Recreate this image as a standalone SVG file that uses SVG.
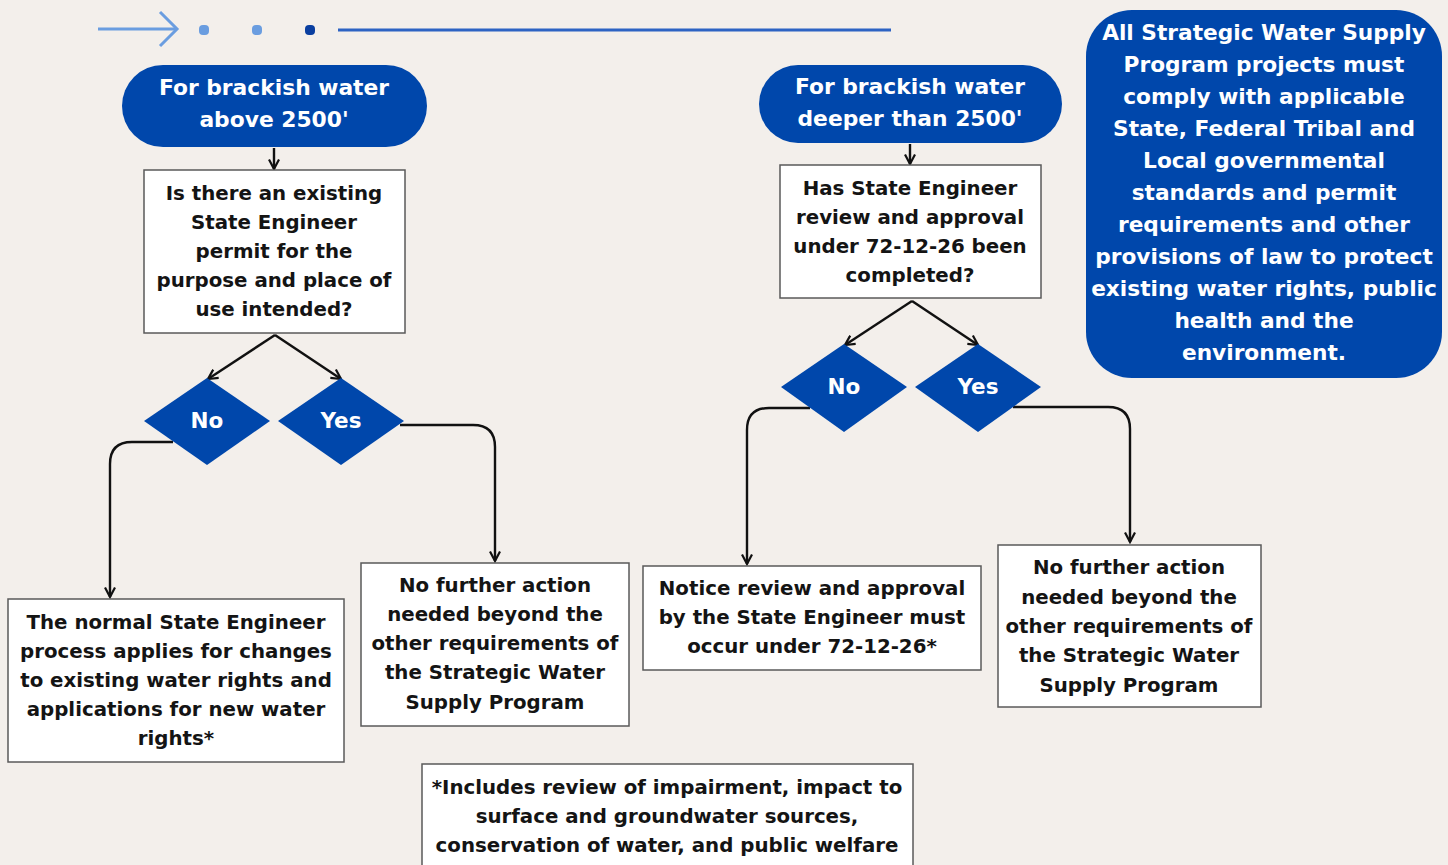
<svg xmlns="http://www.w3.org/2000/svg" width="1448" height="865" viewBox="0 0 1448 865">
<style>
.bg{fill:#f3efeb}
.pill{fill:#0047ab}
.box{fill:#ffffff;stroke:#5a5a5a;stroke-width:1.5}
.dia{fill:#0047ab}
.wt{fill:#ffffff;font-family:"DejaVu Sans",sans-serif;font-weight:bold;text-anchor:middle}
.bt{fill:#141414;font-family:"DejaVu Sans",sans-serif;font-weight:bold;text-anchor:middle;font-size:19.8px}
.con{fill:none;stroke:#111;stroke-width:2.4}
</style>
<defs>
<marker id="ah" viewBox="0 0 12 12" refX="10.5" refY="6" markerWidth="12" markerHeight="12" markerUnits="userSpaceOnUse" orient="auto">
<path d="M1,1 L10.5,6 L1,11" fill="none" stroke="#111" stroke-width="2.2"/>
</marker>
</defs>
<rect class="bg" x="0" y="0" width="1448" height="865"/>
<g id="decoration">
<line x1="98" y1="29" x2="177" y2="29" stroke="#6a9de0" stroke-width="3"/>
<polyline points="160,12 177,29 160,46" fill="none" stroke="#6a9de0" stroke-width="3"/>
<rect x="199" y="25" width="10" height="10" rx="4" fill="#6a9de0"/>
<rect x="252" y="25" width="10" height="10" rx="4" fill="#6a9de0"/>
<rect x="305" y="25" width="10" height="10" rx="4" fill="#0a3fa0"/>
<line x1="338" y1="30" x2="891" y2="30" stroke="#2d63c3" stroke-width="3"/>
</g>
<g id="connectors">
<line class="con" x1="274" y1="148" x2="274" y2="169" marker-end="url(#ah)"/>
<line class="con" x1="275" y1="335" x2="208" y2="379" marker-end="url(#ah)"/>
<line class="con" x1="275" y1="335" x2="341" y2="379" marker-end="url(#ah)"/>
<path class="con" d="M173,442 L132,442 Q110,442 110,464 L110,597" marker-end="url(#ah)"/>
<path class="con" d="M400,425 L473,425 Q495,425 495,447 L495,561" marker-end="url(#ah)"/>
<line class="con" x1="910" y1="144" x2="910" y2="164" marker-end="url(#ah)"/>
<line class="con" x1="912" y1="301" x2="845" y2="345" marker-end="url(#ah)"/>
<line class="con" x1="912" y1="301" x2="978" y2="345" marker-end="url(#ah)"/>
<path class="con" d="M810,408 L769,408 Q747,408 747,430 L747,564" marker-end="url(#ah)"/>
<path class="con" d="M1013,407 L1108,407 Q1130,407 1130,429 L1130,542" marker-end="url(#ah)"/>
</g>
<g id="start1">
<rect class="pill" x="122" y="65" width="305" height="82" rx="41"/>
<text class="wt" font-size="21.8" x="274" y="95">For brackish water</text>
<text class="wt" font-size="21.8" x="274" y="127">above 2500'</text>
</g>
<g id="q1">
<rect class="box" x="144" y="170" width="261" height="163"/>
<text class="bt" x="274" y="200">Is there an existing</text>
<text class="bt" x="274" y="229">State Engineer</text>
<text class="bt" x="274" y="258">permit for the</text>
<text class="bt" x="274" y="287">purpose and place of</text>
<text class="bt" x="274" y="316">use intended?</text>
</g>
<g id="no1">
<polygon class="dia" points="207,378 270,421 207,465 144,421"/>
<text class="wt" font-size="21.5" x="207" y="428">No</text>
</g>
<g id="yes1">
<polygon class="dia" points="341,378 404,421 341,465 278,421"/>
<text class="wt" font-size="21.5" x="341" y="428">Yes</text>
</g>
<g id="normal">
<rect class="box" x="8" y="599" width="336" height="163"/>
<text class="bt" x="176" y="629">The normal State Engineer</text>
<text class="bt" x="176" y="658">process applies for changes</text>
<text class="bt" x="176" y="687">to existing water rights and</text>
<text class="bt" x="176" y="716">applications for new water</text>
<text class="bt" x="176" y="745">rights*</text>
</g>
<g id="nofurther1">
<rect class="box" x="361" y="563" width="268" height="163"/>
<text class="bt" x="495" y="592">No further action</text>
<text class="bt" x="495" y="621">needed beyond the</text>
<text class="bt" x="495" y="650">other requirements of</text>
<text class="bt" x="495" y="679">the Strategic Water</text>
<text class="bt" x="495" y="709">Supply Program</text>
</g>
<g id="start2">
<rect class="pill" x="759" y="65" width="303" height="78" rx="39"/>
<text class="wt" font-size="21.8" x="910" y="94">For brackish water</text>
<text class="wt" font-size="21.8" x="910" y="126">deeper than 2500'</text>
</g>
<g id="q2">
<rect class="box" x="780" y="165" width="261" height="133"/>
<text class="bt" x="910" y="195">Has State Engineer</text>
<text class="bt" x="910" y="224">review and approval</text>
<text class="bt" x="910" y="253">under 72-12-26 been</text>
<text class="bt" x="910" y="282">completed?</text>
</g>
<g id="no2">
<polygon class="dia" points="844,344 907,387 844,432 781,387"/>
<text class="wt" font-size="21.5" x="844" y="394">No</text>
</g>
<g id="yes2">
<polygon class="dia" points="978,344 1041,387 978,432 915,387"/>
<text class="wt" font-size="21.5" x="978" y="394">Yes</text>
</g>
<g id="notice">
<rect class="box" x="643" y="566" width="338" height="104"/>
<text class="bt" x="812" y="595">Notice review and approval</text>
<text class="bt" x="812" y="624">by the State Engineer must</text>
<text class="bt" x="812" y="653">occur under 72-12-26*</text>
</g>
<g id="nofurther2">
<rect class="box" x="998" y="545" width="263" height="162"/>
<text class="bt" x="1129" y="574">No further action</text>
<text class="bt" x="1129" y="604">needed beyond the</text>
<text class="bt" x="1129" y="633">other requirements of</text>
<text class="bt" x="1129" y="662">the Strategic Water</text>
<text class="bt" x="1129" y="692">Supply Program</text>
</g>
<g id="compliance">
<rect class="pill" x="1086" y="10" width="356" height="368" rx="46"/>
<text class="wt" font-size="21.7" x="1264" y="40">All Strategic Water Supply</text>
<text class="wt" font-size="21.7" x="1264" y="72">Program projects must</text>
<text class="wt" font-size="21.7" x="1264" y="104">comply with applicable</text>
<text class="wt" font-size="21.7" x="1264" y="136">State, Federal Tribal and</text>
<text class="wt" font-size="21.7" x="1264" y="168">Local governmental</text>
<text class="wt" font-size="21.7" x="1264" y="200">standards and permit</text>
<text class="wt" font-size="21.7" x="1264" y="232">requirements and other</text>
<text class="wt" font-size="21.7" x="1264" y="264">provisions of law to protect</text>
<text class="wt" font-size="21.7" x="1264" y="296">existing water rights, public</text>
<text class="wt" font-size="21.7" x="1264" y="328">health and the</text>
<text class="wt" font-size="21.7" x="1264" y="360">environment.</text>
</g>
<g id="footnote">
<rect class="box" x="422" y="764" width="491" height="110"/>
<text class="bt" x="667" y="794">*Includes review of impairment, impact to</text>
<text class="bt" x="667" y="823">surface and groundwater sources,</text>
<text class="bt" x="667" y="852">conservation of water, and public welfare</text>
</g>
</svg>
